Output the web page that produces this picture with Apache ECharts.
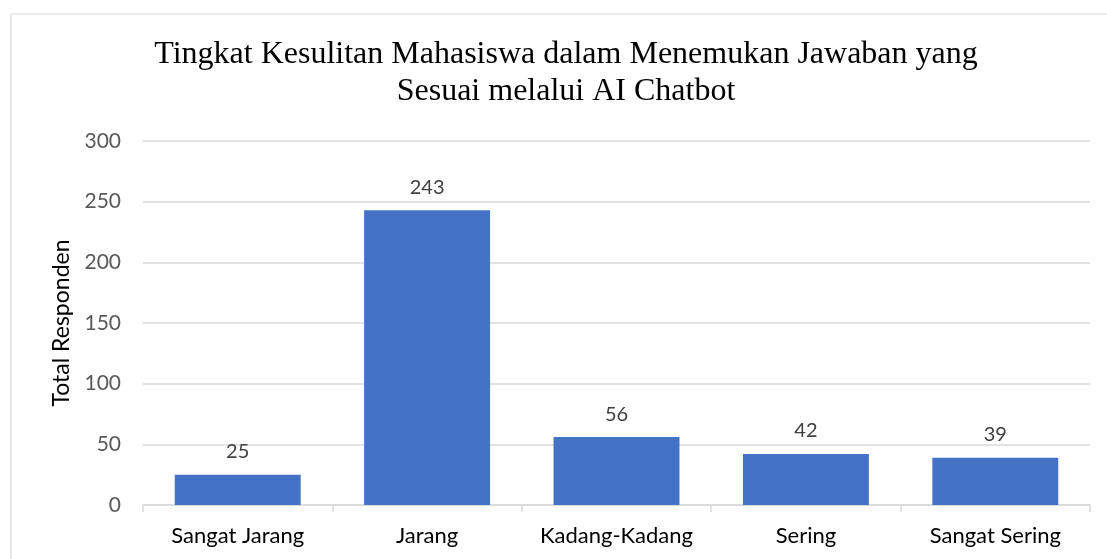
<!DOCTYPE html>
<html>
<head>
<meta charset="utf-8">
<script src="https://cdn.jsdelivr.net/npm/echarts@6/dist/echarts.min.js"></script>
<style>html,body{margin:0;padding:0;background:#fff;}#c{width:1107px;height:559px;}</style>
</head>
<body>
<div id="c"></div>
<script>
const categories = ["Sangat Jarang", "Jarang", "Kadang-Kadang", "Sering", "Sangat Sering"];
const values = [25, 243, 56, 42, 39];
const titleText = "Tingkat Kesulitan Mahasiswa dalam Menemukan Jawaban yang\nSesuai melalui AI Chatbot";
const yAxisName = "Total Responden";

const sans = 'Lato, "Noto Sans", sans-serif';
const chart = echarts.init(document.getElementById('c'));
chart.setOption({
  animation: false,
  backgroundColor: '#fff',
  graphic: [{
    type: 'rect', shape: {x: 11, y: 14, width: 1200, height: 600},
    style: {fill: 'none', stroke: '#d9d9d9', lineWidth: 1.2}, silent: true
  }],
  title: {
    text: titleText, left: 561, textAlign: 'center', top: 31,
    textStyle: {fontFamily: '"Liberation Serif", "Times New Roman", serif', fontSize: 32, fontWeight: 'normal', color: '#000', lineHeight: 37}
  },
  grid: {left: 143, right: 17, top: 141, bottom: 54},
  xAxis: {
    type: 'category', data: categories,
    axisLine: {lineStyle: {color: '#d9d9d9', width: 1.5}},
    axisTick: {show: true, length: 7, lineStyle: {color: '#d9d9d9', width: 1.5}},
    axisLabel: {color: '#000', fontFamily: sans, fontSize: 22, margin: 20, interval: 0}
  },
  yAxis: {
    type: 'value', min: 0, max: 300, interval: 50,
    name: yAxisName, nameLocation: 'middle', nameGap: 70, nameRotate: 90,
    nameTextStyle: {color: '#000', fontFamily: sans, fontSize: 23},
    axisLine: {show: false}, axisTick: {show: false},
    axisLabel: {color: '#595959', fontFamily: sans, fontSize: 21, margin: 22},
    splitLine: {lineStyle: {color: '#d9d9d9', width: 1.5}}
  },
  series: [{
    type: 'bar', data: values, barCategoryGap: '33.5%',
    itemStyle: {color: '#4472C4'},
    label: {show: true, position: 'top', distance: 13, color: '#404040', fontFamily: sans, fontSize: 20}
  }]
});
</script>
</body>
</html>
